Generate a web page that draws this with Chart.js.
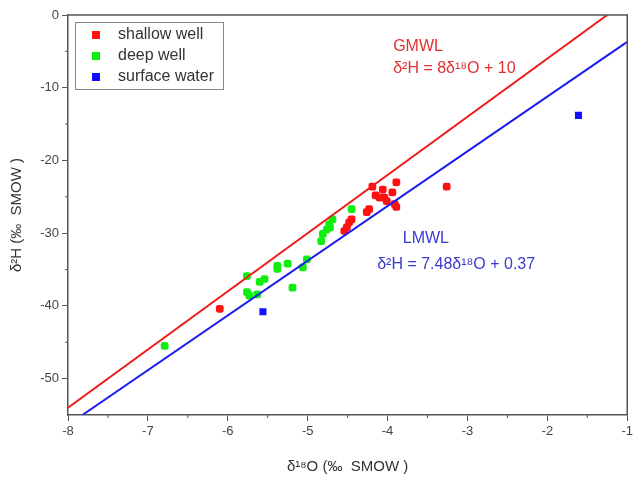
<!DOCTYPE html>
<html>
<head>
<meta charset="utf-8">
<script src="https://cdn.jsdelivr.net/npm/chart.js@4"></script>
<style>
  html, body { margin: 0; padding: 0; background: #fff; }
  #wrap { width: 636px; height: 484px; }
</style>
</head>
<body>
<div id="wrap"><canvas id="chart" width="636" height="484"></canvas></div>
<script>
// d18O / d2H pairs
const shallowX = [-4.19, -4.06, -3.89, -4.10, -4.01, -4.15, -3.94, -3.91, -3.89, -4.23, -4.26, -4.45, -4.48, -4.51, -4.54, -6.10, -3.26, -4.04];
const shallowY = [-23.6, -24.0, -23.0, -25.1, -25.6, -24.8, -24.4, -26.0, -26.4, -26.7, -27.1, -28.1, -28.5, -29.2, -29.7, -40.4, -23.6, -25.1];

const deepX = [-4.45, -4.69, -4.73, -4.76, -4.72, -4.81, -4.83, -5.01, -5.06, -5.25, -5.38, -5.38, -5.54, -5.60, -5.76, -5.76, -5.73, -5.63, -5.19, -6.79];
const deepY = [-26.7, -28.1, -28.8, -29.5, -29.2, -30.1, -31.1, -33.6, -34.7, -34.2, -34.5, -34.9, -36.3, -36.7, -35.9, -38.1, -38.6, -38.4, -37.5, -45.5];

const surfaceX = [-5.56, -1.61];
const surfaceY = [-40.8, -13.8];

// meteoric water lines as drawn (end points)
const gmwlX = [-8, -1.25];
const gmwlY = [-54, 0];
const lmwlX = [-7.82, -1];
const lmwlY = [-55, -3.7];

const xTicks = [-8, -7, -6, -5, -4, -3, -2, -1];
const yTicks = [0, -10, -20, -30, -40, -50];

function pts(xs, ys) {
    return xs.map((x, i) => ({ x: x, y: ys[i] }));
}

const font = 'Liberation Sans, Arial, sans-serif';

const frameAndLabels = {
    id: 'frameAndLabels',
    afterDraw(chart) {
        const ctx = chart.ctx;
        const a = chart.chartArea;
        const xs = chart.scales.x, ys = chart.scales.y;
        ctx.save();
        // top + right frame
        ctx.strokeStyle = '#555';
        ctx.lineWidth = 1.5;
        ctx.beginPath();
        ctx.moveTo(a.left, a.top);
        ctx.lineTo(a.right, a.top);
        ctx.lineTo(a.right, a.bottom);
        ctx.stroke();
        // minor ticks
        ctx.lineWidth = 1;
        ctx.beginPath();
        for (let v = -7.5; v < -1; v += 1) {
            const px = xs.getPixelForValue(v);
            ctx.moveTo(px, a.bottom);
            ctx.lineTo(px, a.bottom + 3);
        }
        for (let v = -5; v > -55; v -= 10) {
            const py = ys.getPixelForValue(v);
            ctx.moveTo(a.left, py);
            ctx.lineTo(a.left - 3, py);
        }
        ctx.stroke();

        // legend box
        ctx.strokeStyle = '#888';
        ctx.lineWidth = 1;
        ctx.strokeRect(75.5, 22.5, 148, 67);
        const items = [['shallow well', '#ff1010'], ['deep well', '#10ee10'], ['surface water', '#1010ff']];
        ctx.font = '16px ' + font;
        ctx.textBaseline = 'middle';
        items.forEach((it, i) => {
            const y = 35 + i * 21;
            ctx.fillStyle = it[1];
            ctx.fillRect(92, y - 4, 8, 8);
            ctx.fillStyle = '#333';
            ctx.fillText(it[0], 118, y);
        });

        // line annotations
        ctx.font = '16px ' + font;
        ctx.fillStyle = '#e23030';
        ctx.fillText('GMWL', xs.getPixelForValue(-3.93), ys.getPixelForValue(-4.4));
        ctx.fillText('δ²H = 8δ¹⁸O + 10', xs.getPixelForValue(-3.93), ys.getPixelForValue(-7.4));
        ctx.fillStyle = '#3a3ad0';
        ctx.fillText('LMWL', xs.getPixelForValue(-3.81), ys.getPixelForValue(-30.8));
        ctx.fillText('δ²H = 7.48δ¹⁸O + 0.37', xs.getPixelForValue(-4.13), ys.getPixelForValue(-34.3));
        ctx.restore();
    }
};

new Chart(document.getElementById('chart').getContext('2d'), {
    type: 'scatter',
    data: {
        datasets: [
            {
                label: 'GMWL', type: 'line', data: pts(gmwlX, gmwlY),
                borderColor: '#f01c1c', borderWidth: 2, pointRadius: 0, fill: false
            },
            {
                label: 'LMWL', type: 'line', data: pts(lmwlX, lmwlY),
                borderColor: '#1c1cf0', borderWidth: 2, pointRadius: 0, fill: false
            },
            {
                label: 'shallow well', data: pts(shallowX, shallowY),
                backgroundColor: '#ff1010', borderWidth: 0, pointStyle: 'rectRounded', pointRadius: 4.5
            },
            {
                label: 'deep well', data: pts(deepX, deepY),
                backgroundColor: '#10ee10', borderWidth: 0, pointStyle: 'rectRounded', pointRadius: 4.5
            },
            {
                label: 'surface water', data: pts(surfaceX, surfaceY),
                backgroundColor: '#1010ff', borderWidth: 0, pointStyle: 'rect', pointRadius: 5
            }
        ]
    },
    options: {
        responsive: false,
        animation: false,
        layout: { padding: { top: 15, right: 8, left: 0, bottom: 0 } },
        plugins: { legend: { display: false }, tooltip: { enabled: false } },
        scales: {
            x: {
                type: 'linear', min: -8, max: -1,
                afterBuildTicks: s => { s.ticks = xTicks.map(v => ({ value: v })); },
                afterFit: s => { s.height = 69; },
                grid: { drawOnChartArea: false, tickLength: 6, color: '#555', tickWidth: 1 },
                border: { color: '#555', width: 1.5 },
                ticks: { color: '#444', font: { family: font, size: 13 }, padding: 3, maxRotation: 0 },
                title: { display: true, text: 'δ¹⁸O (‰  SMOW )', color: '#333', font: { family: font, size: 15 }, padding: { top: 0, bottom: 8 } }
            },
            y: {
                type: 'linear', min: -55, max: 0,
                afterBuildTicks: s => { s.ticks = yTicks.map(v => ({ value: v })); },
                afterFit: s => { s.width = 68; },
                grid: { drawOnChartArea: false, tickLength: 6, color: '#555', tickWidth: 1 },
                border: { color: '#555', width: 1.5 },
                ticks: { color: '#444', font: { family: font, size: 13 }, padding: 3 },
                title: { display: true, text: 'δ²H (‰  SMOW )', color: '#333', font: { family: font, size: 15 }, padding: { top: 8, bottom: 0 } }
            }
        }
    },
    plugins: [frameAndLabels]
});
</script>
</body>
</html>
